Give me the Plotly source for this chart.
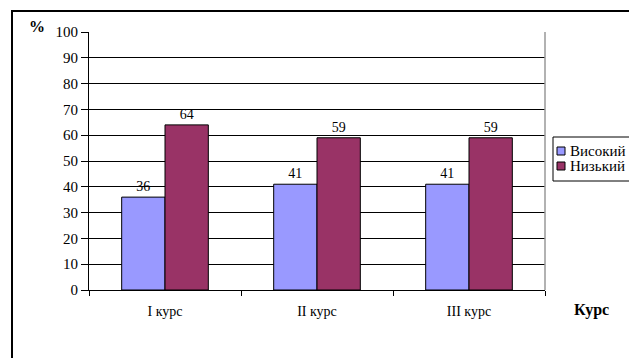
import plotly.graph_objects as go

courses = ["I курс", "II курс", "III курс"]
series_names = ["Високий", "Низький"]
high = [36, 41, 41]
low = [64, 59, 59]
colors = ["#9999FF", "#993366"]

W, H = 629, 358
L, R, T, B = 89, 545, 32, 290  # plot area in pixels


def px(x):
    return (x - L) / (R - L)


def py(y):
    return (B - y) / (B - T)


serif = "Liberation Serif, Times New Roman, serif"

fig = go.Figure()
for name, vals, col in zip(series_names, [high, low], colors):
    fig.add_trace(go.Bar(
        x=courses, y=vals, name=name,
        marker=dict(color=col, line=dict(color="black", width=1)),
        text=[str(v) for v in vals], textposition="outside",
        textfont=dict(family=serif, size=14, color="black"),
        cliponaxis=False, showlegend=False,
    ))

shapes = [
    # outer chart frame: left and top edges
    dict(type="path", xref="paper", yref="paper",
         path=f"M {px(12)},{py(420)} L {px(12)},{py(11)} L {px(660)},{py(11)}",
         line=dict(color="black", width=2)),
    # right edge of plot area
    dict(type="line", xref="paper", yref="paper", x0=1, x1=1, y0=0, y1=1,
         line=dict(color="#999999", width=1.5)),
    # legend box
    dict(type="rect", xref="paper", yref="paper", x0=px(553), x1=px(700),
         y0=py(181), y1=py(137), line=dict(color="black", width=1),
         fillcolor="white"),
]
annotations = [
    dict(text="<b>%</b>", xref="paper", yref="paper", x=px(37), y=py(27),
         xanchor="center", yanchor="middle",
         showarrow=False, font=dict(family=serif, size=16, color="black")),
    dict(text="<b>Курс</b>", xref="paper", yref="paper", x=px(591), y=py(310),
         xanchor="center", yanchor="middle",
         showarrow=False, font=dict(family=serif, size=16, color="black")),
]
for i, (name, col) in enumerate(zip(series_names, colors)):
    cy = 151 + i * 15
    shapes.append(dict(type="rect", xref="paper", yref="paper",
                       x0=px(557), x1=px(565), y0=py(cy + 4), y1=py(cy - 4),
                       fillcolor=col, line=dict(color="black", width=1)))
    annotations.append(dict(text=name, xref="paper", yref="paper",
                            x=px(568), y=py(cy), xanchor="left",
                            yanchor="middle", showarrow=False,
                            font=dict(family=serif, size=15, color="black")))

fig.update_layout(
    width=W, height=H,
    margin=dict(l=L, r=W - R, t=T, b=H - B, autoexpand=False),
    paper_bgcolor="white", plot_bgcolor="white",
    barmode="group", bargap=0.43, bargroupgap=0,
    shapes=shapes, annotations=annotations,
    font=dict(family=serif, size=14, color="black"),
)
fig.update_xaxes(
    showline=True, linecolor="black", linewidth=1,
    ticks="outside", tickson="boundaries", ticklen=5, tickcolor="black",
    tickfont=dict(family=serif, size=14, color="black"),
    showgrid=False, ticklabelstandoff=8,
)
fig.update_yaxes(
    range=[0, 100], dtick=10, showline=True, linecolor="black", linewidth=1,
    ticks="outside", ticklen=7, tickcolor="black",
    tickfont=dict(family=serif, size=15, color="black"),
    showgrid=True, gridcolor="black", gridwidth=1, zeroline=False,
)

fig.write_html("out.html")
